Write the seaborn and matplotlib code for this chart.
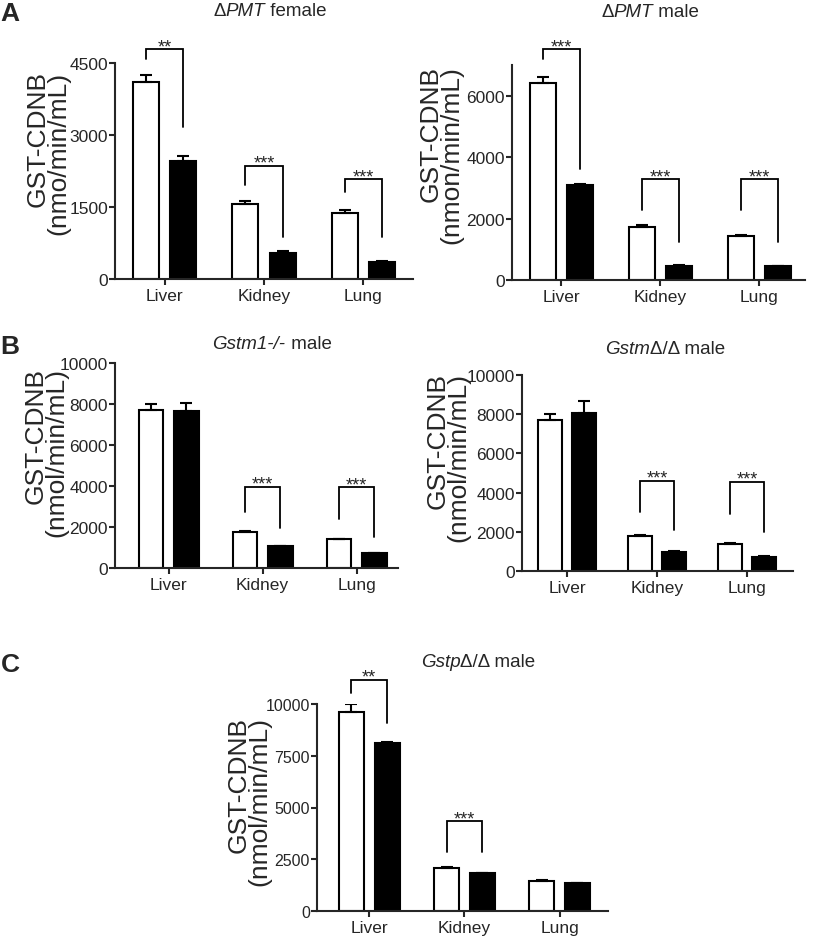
import matplotlib
matplotlib.use("Agg")
import matplotlib.pyplot as plt
import pandas as pd
import seaborn as sns

W, H = 815, 937

tissues = ["Liver", "Kidney", "Lung"]
genotypes = ["WT", "KO"]

# A - ΔPMT female
pmt_female_wt = [4100, 1560, 1370]
pmt_female_wt_sem = [150, 60, 75]
pmt_female_ko = [2450, 540, 350]
pmt_female_ko_sem = [120, 40, 15]

# A - ΔPMT male
pmt_male_wt = [6400, 1740, 1440]
pmt_male_wt_sem = [200, 40, 20]
pmt_male_ko = [3080, 460, 440]
pmt_male_ko_sem = [40, 30, 20]

# B - Gstm1-/- male
gstm1_wt = [7700, 1780, 1400]
gstm1_wt_sem = [300, 30, 30]
gstm1_ko = [7650, 1060, 720]
gstm1_ko_sem = [400, 20, 20]

# B - GstmΔ/Δ male
gstm_wt = [7700, 1790, 1400]
gstm_wt_sem = [300, 30, 30]
gstm_ko = [8050, 990, 730]
gstm_ko_sem = [600, 20, 20]

# C - GstpΔ/Δ male
gstp_wt = [9620, 2080, 1450]
gstp_wt_sem = [380, 40, 50]
gstp_ko = [8120, 1820, 1340]
gstp_ko_sem = [60, 20, 20]

# significance brackets: tissue, stars, bracket top, WT leg end, KO leg end
sig_pmt_female = [("Liver", "**", 4790, 4580, 3170),
                  ("Kidney", "***", 2360, 1960, 875),
                  ("Lung", "***", 2080, 1820, 875)]
sig_pmt_male = [("Liver", "***", 7520, 7190, 3610),
                ("Kidney", "***", 3290, 2280, 1230),
                ("Lung", "***", 3290, 2280, 1230)]
sig_gstm1 = [("Kidney", "***", 3970, 2720, 1940),
             ("Lung", "***", 3940, 2390, 1500)]
sig_gstm = [("Kidney", "***", 4600, 3035, 2095),
            ("Lung", "***", 4550, 2900, 1990)]
sig_gstp = [("Liver", "**", 11170, 10550, 9100),
            ("Kidney", "***", 4350, 2850, 2850)]

sns.set_style("ticks")
plt.rcParams["font.family"] = ["Liberation Sans", "DejaVu Sans"]

fig = plt.figure(figsize=(W / 100, H / 100), dpi=100)
renderer = fig.canvas.get_renderer()


def draw_panel(box, xlim, ylim, yticks, wt, wt_sem, ko, ko_sem, ylabel, label_pos, sig, tick_size):
    left, top, right, bottom = box
    ax = fig.add_axes([left / W, 1 - bottom / H, (right - left) / W, (bottom - top) / H])
    df = pd.DataFrame({
        "tissue": tissues * 2,
        "genotype": [genotypes[0]] * len(tissues) + [genotypes[1]] * len(tissues),
        "activity": wt + ko,
    })
    sns.barplot(data=df, x="tissue", y="activity", hue="genotype", order=tissues,
                hue_order=genotypes, palette={"WT": "white", "KO": "black"}, saturation=1,
                edgecolor="black", linewidth=1.5, width=0.75, gap=0.3, errorbar=None,
                legend=False, ax=ax)

    # upper SEM bars, placed on the seaborn bars
    centers = []
    for bars, sem in zip(ax.containers[:2], (wt_sem, ko_sem)):
        xs = [b.get_x() + b.get_width() / 2 for b in bars]
        ys = [b.get_height() for b in bars]
        centers.append(xs)
        ax.errorbar(xs, ys, yerr=[[0] * len(sem), sem], fmt="none", ecolor="black",
                    elinewidth=1.5, capsize=4.5, capthick=1.5, zorder=3)

    for tissue, stars, top_y, wt_y, ko_y in sig:
        i = tissues.index(tissue)
        xl, xr = centers[0][i], centers[1][i]
        ax.plot([xl, xl, xr, xr], [wt_y, top_y, top_y, ko_y], color="black", lw=1.3,
                clip_on=False, solid_joinstyle="miter")
        ax.annotate(stars, xy=((xl + xr) / 2, top_y), xytext=(0, -1.5),
                    textcoords="offset points", ha="center", va="baseline", fontsize=13,
                    annotation_clip=False)

    ax.set_xlim(*xlim)
    ax.set_ylim(*ylim)
    ax.set_yticks(yticks)
    ax.set_xlabel("")
    ax.set_ylabel(ylabel, fontsize=19, linespacing=0.8, multialignment="right")
    lx, ly = label_pos
    ax.yaxis.set_label_coords((lx - left) / (right - left), (bottom - ly) / (bottom - top))

    sns.despine(ax=ax)
    for s in ("left", "bottom"):
        ax.spines[s].set_linewidth(1.5)
    ax.tick_params(axis="y", length=4, width=1.5, labelsize=tick_size, pad=1)
    ax.tick_params(axis="x", length=4.5, width=1.5, labelsize=12.5, pad=2)
    return ax


def mixed_title(x, y, parts, size=13.5):
    # title with italic gene names, centred at pixel x, baseline at pixel y
    texts = [fig.text(0, 0, s, fontsize=size, fontstyle=st, va="baseline") for s, st in parts]
    widths = [t.get_window_extent(renderer).width for t in texts]
    x0 = x - sum(widths) / 2
    for t, w in zip(texts, widths):
        t.set_position((x0 / W, 1 - y / H))
        x0 += w


draw_panel((115, 64, 413, 280), (-0.5, 2.5), (0, 4500), [0, 1500, 3000, 4500],
           pmt_female_wt, pmt_female_wt_sem, pmt_female_ko, pmt_female_ko_sem,
           "GST-CDNB\n(nmo/min/mL)", (70, 153), sig_pmt_female, 12.5)
draw_panel((512, 66, 805, 281), (-0.5, 2.46), (0, 7000), [0, 2000, 4000, 6000],
           pmt_male_wt, pmt_male_wt_sem, pmt_male_ko, pmt_male_ko_sem,
           "GST-CDNB\n(nmon/min/mL)", (463, 155), sig_pmt_male, 12.5)
draw_panel((115, 364, 398, 569), (-0.57, 2.44), (0, 10000), list(range(0, 10001, 2000)),
           gstm1_wt, gstm1_wt_sem, gstm1_ko, gstm1_ko_sem,
           "GST-CDNB\n(nmol/min/mL)", (68, 453), sig_gstm1, 12.5)
draw_panel((522, 376, 793, 572), (-0.5, 2.51), (0, 10000), list(range(0, 10001, 2000)),
           gstm_wt, gstm_wt_sem, gstm_ko, gstm_ko_sem,
           "GST-CDNB\n(nmol/min/mL)", (470, 458), sig_gstm, 12.5)
draw_panel((317, 705, 608, 912), (-0.55, 2.51), (0, 10000), [0, 2500, 5000, 7500, 10000],
           gstp_wt, gstp_wt_sem, gstp_ko, gstp_ko_sem,
           "GST-CDNB\n(nmol/min/mL)", (271, 802), sig_gstp, 11.5)

mixed_title(270, 16, [("Δ", "normal"), ("PMT", "italic"), (" female", "normal")])
mixed_title(650, 17, [("Δ", "normal"), ("PMT", "italic"), (" male", "normal")])
mixed_title(272, 349, [("Gstm1-/-", "italic"), (" male", "normal")])
mixed_title(665, 354, [("Gstm", "italic"), ("Δ/Δ male", "normal")])
mixed_title(478, 667, [("Gstp", "italic"), ("Δ/Δ male", "normal")])

for letter, (x, y) in {"A": (10, 14), "B": (10, 347), "C": (10, 665)}.items():
    fig.text(x / W, 1 - y / H, letter, fontsize=19, fontweight="bold", ha="center", va="center")

fig.savefig("out.png", dpi=100)
